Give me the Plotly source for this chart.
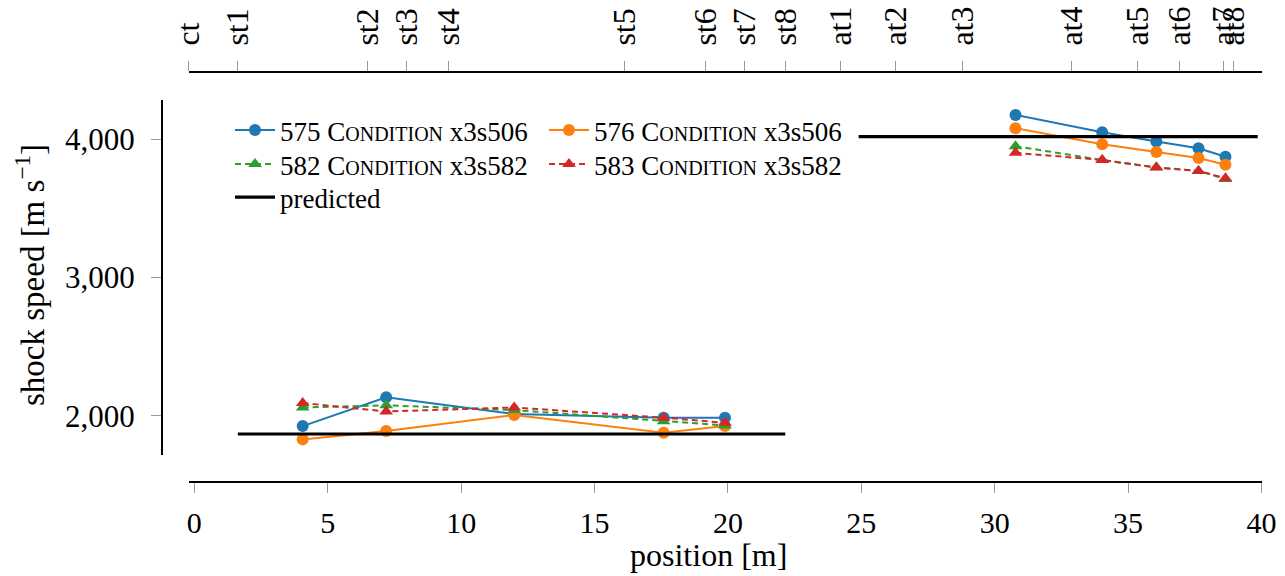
import plotly.graph_objects as go

# ---------------- data ----------------
pos_left = [4.06, 7.19, 11.99, 17.59, 19.89]
pos_right = [30.78, 34.03, 36.06, 37.64, 38.65]

speed_575 = [1925, 2133, 2012, 1986, 1986, 4176, 4051, 3983, 3935, 3874]
speed_576 = [1829, 1889, 2005, 1877, 1925, 4080, 3964, 3908, 3865, 3816]
speed_582 = [2060, 2075, 2041, 1960, 1930, 3950, 3850, 3797, 3771, 3713]
speed_583 = [2092, 2031, 2060, 1986, 1949, 3902, 3850, 3795, 3771, 3718]

pred_x = [1.63, 22.15, None, 24.9, 39.86]
pred_y = [1868, 1868, None, 4019, 4019]

station_names = ["ct", "st1", "st2", "st3", "st4", "st5", "st6", "st7", "st8",
                 "at1", "at2", "at3", "at4", "at5", "at6", "at7", "at8"]
station_pos = [-0.21, 1.63, 6.50, 7.95, 9.52, 16.14, 19.17, 20.63, 22.15,
               24.23, 26.27, 28.80, 32.87, 35.34, 36.94, 38.57, 38.96]

x_ticks = [0, 5, 10, 15, 20, 25, 30, 35, 40]
y_ticks = [2000, 3000, 4000]
y_ticktext = ["2,000", "3,000", "4,000"]

FONT = "Liberation Serif"
SC = "C<span style='font-size:20px'>ONDITION</span>"

series = [
    ("575 " + SC + " x3s506", speed_575, "#1f77b4", "circle", "solid", "legend"),
    ("576 " + SC + " x3s506", speed_576, "#ff7f0e", "circle", "solid", "legend"),
    ("582 " + SC + " x3s582", speed_582, "#2ca02c", "triangle-up", "dash", "legend2"),
    ("583 " + SC + " x3s582", speed_583, "#d62728", "triangle-up", "dash", "legend2"),
]

fig = go.Figure()
for name, vals, col, sym, dash, lg in series:
    for i, (xs, ys) in enumerate([(pos_left, vals[:5]), (pos_right, vals[5:])]):
        fig.add_trace(go.Scatter(
            x=xs, y=ys, mode="lines+markers", name=name,
            line=dict(color=col, width=2, dash="6px,4px" if dash == "dash" else "solid"),
            marker=dict(color=col, symbol=sym, size=12, line=dict(width=0)),
            legendgroup=name, showlegend=(i == 0), legend=lg,
        ))

fig.add_trace(go.Scatter(
    x=pred_x, y=pred_y, mode="lines", name="predicted",
    line=dict(color="black", width=3.2), legend="legend3",
))

# trace carrying the top (station) axis
fig.add_trace(go.Scatter(x=station_pos, y=[3000] * len(station_pos), xaxis="x2",
                         mode="markers", marker=dict(opacity=0), showlegend=False,
                         hoverinfo="skip"))

W_PLOT = 1100.0
H_PLOT = 410.0
x0dom = 26.5 / W_PLOT
xrange = [-0.22, 40.02]


def leg(top_px):
    return dict(
        x=(230 - 162) / W_PLOT, y=(482 - top_px) / H_PLOT, xanchor="left", yanchor="top",
        bgcolor="rgba(0,0,0,0)", font=dict(size=27), tracegroupgap=0,
        itemwidth=40, orientation="h", entrywidth=259, entrywidthmode="pixels",
    )


fig.update_layout(
    width=1285, height=576,
    margin=dict(l=162, r=23, t=72, b=94, autoexpand=False),
    plot_bgcolor="white", paper_bgcolor="white",
    font=dict(family=FONT, size=30, color="black"),
    showlegend=True,
    xaxis=dict(
        domain=[x0dom, 1], range=xrange, anchor="free", position=0, automargin=False,
        tickvals=x_ticks, ticks="outside", ticklen=10, tickwidth=1, tickcolor="#9a9a9a",
        showline=True, linecolor="black", linewidth=2, showgrid=False, zeroline=False,
        tickfont=dict(size=30), ticklabelstandoff=4,
    ),
    xaxis2=dict(
        overlaying="x", side="top", anchor="free", position=1, range=xrange,
        domain=[x0dom, 1], automargin=False,
        tickvals=station_pos, ticktext=station_names, tickangle=-90,
        ticks="outside", ticklen=10, tickwidth=1, tickcolor="#9a9a9a",
        showline=True, linecolor="black", linewidth=2, showgrid=False, zeroline=False,
        tickfont=dict(size=32), ticklabelstandoff=9,
    ),
    yaxis=dict(
        domain=[(482 - 455) / H_PLOT, (482 - 100) / H_PLOT], range=[1716, 4284],
        anchor="free", position=0, automargin=False,
        tickvals=y_ticks, ticktext=y_ticktext, ticks="outside", ticklen=10, tickwidth=1,
        tickcolor="#9a9a9a", showline=True, linecolor="black", linewidth=2,
        showgrid=False, zeroline=False, tickfont=dict(size=31), ticklabelstandoff=10,
    ),
    legend=leg(106),
    legend2=leg(140),
    legend3=leg(173),
    annotations=[
        dict(text="position [m]", xref="paper", yref="paper", x=(708 - 162) / W_PLOT,
             y=(482 - 555) / H_PLOT, xanchor="center", yanchor="middle", showarrow=False,
             font=dict(size=32)),
        dict(text="shock speed [m s<sup>\u22121</sup>]", xref="paper", yref="paper",
             x=(30 - 162) / W_PLOT, y=(482 - 275) / H_PLOT, xanchor="center",
             yanchor="middle", showarrow=False, textangle=-90, font=dict(size=33)),
    ],
)

fig.write_html("out.html")
